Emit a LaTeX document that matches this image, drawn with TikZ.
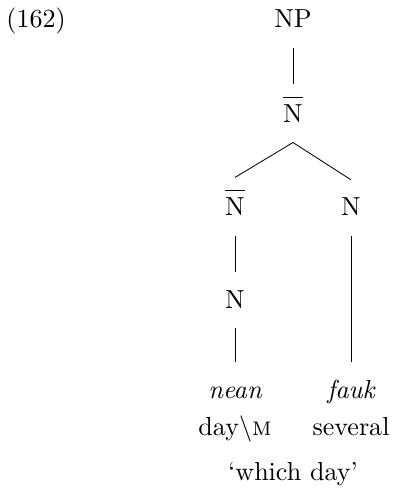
\documentclass[tikz,border=0pt,11pt]{standalone}
\usepackage{amsmath}
\usepackage{tikz}
\usetikzlibrary{positioning}
\newcommand{\barN}{\leavevmode\rlap{\rule[10.6pt]{8.3pt}{0.45pt}}N}
\tikzset{
  cat/.style  = {anchor=base, inner xsep=2pt, inner ysep=8pt,
                 text height=7pt, text depth=0pt},
  catb/.style = {cat, text height=8pt},
  leaf/.style = {cat, font=\itshape},
  gls/.style  = {anchor=base, inner sep=1pt},
  br/.style   = {draw, line width=0.35pt}
}
\begin{document}
\begin{tikzpicture}[x=0.42pt, y=-0.42pt]
  \useasboundingbox (0,0) rectangle (394,494);
  \node[anchor=base west, inner sep=0pt] (exno) at (6,28) {(162)};
  \node[cat]  (np)    at (293,28)  {NP};
  \node[catb] (nbar)  at (293,123) {\barN};
  \node[catb] (nbarl) at (235,216) {\barN};
  \node[cat]  (nr)    at (351,216) {N};
  \node[cat]  (nl)    at (235,308) {N};
  \node[leaf] (nean)  at (235,398) {nean};
  \node[leaf] (fauk)  at (351,398) {fauk};
  \node[gls]  (gday)  at (235,435) {day\textbackslash\textsc{m}};
  \node[gls]  (gsev)  at (351,435) {several};
  \node[gls]  (trans) at (293,480) {`which day'};
  \draw[br] (np.south) -- (nbar.north);
  \draw[br] (nbar.south) -- (nbarl.north);
  \draw[br] (nbar.south) -- (nr.north);
  \draw[br] (nbarl.south) -- (nl.north);
  \draw[br] (nl.south) -- (nean.north);
  \draw[br] (nr.south) -- (fauk.north);
\end{tikzpicture}
\end{document}
